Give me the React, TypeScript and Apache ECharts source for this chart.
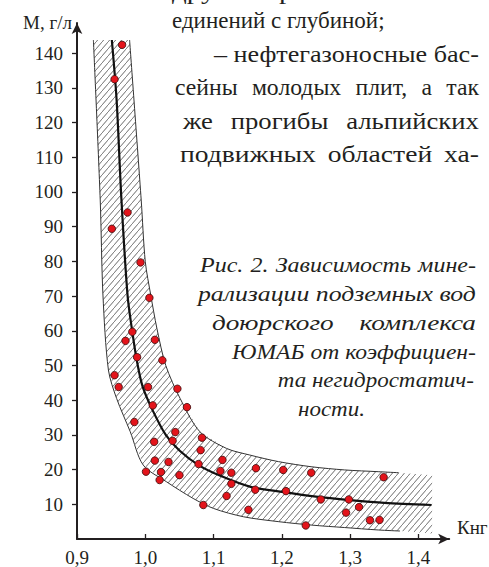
import React, { useEffect, useRef } from "react";
import * as echarts from "echarts";

// ---- data ----
const xTickValues = [0.9, 1.0, 1.1, 1.2, 1.3, 1.4];
const yTickValues = [10, 20, 30, 40, 50, 60, 70, 80, 90, 100, 110, 120, 130, 140];

const dotK = [
  0.966, 0.955, 0.974, 0.951, 0.993, 1.006, 0.981, 0.971, 1.014, 0.988,
  1.025, 0.955, 0.961, 1.004, 1.047, 1.011, 1.061, 0.984, 1.044, 1.083,
  1.013, 1.040, 1.081, 1.014, 1.034, 1.113, 1.078, 1.001, 1.023, 1.110,
  1.126, 1.021, 1.050, 1.126, 1.119, 1.085, 1.151, 1.162, 1.202, 1.243,
  1.349, 1.161, 1.206, 1.257, 1.298, 1.313, 1.294, 1.329, 1.343, 1.235,
];
const dotM = [
  142.4, 132.5, 94.1, 89.4, 79.7, 69.5, 59.7, 57.1, 57.4, 52.4,
  51.5, 47.2, 43.8, 43.8, 43.3, 38.5, 38.0, 33.7, 30.8, 29.2,
  28.0, 28.3, 25.6, 22.6, 22.2, 22.8, 21.6, 19.4, 19.3, 19.6,
  19.1, 17.0, 18.4, 15.9, 12.4, 9.8, 8.4, 20.4, 19.9, 19.1,
  17.8, 14.2, 13.8, 11.4, 11.4, 9.2, 7.6, 5.4, 5.5, 3.9,
];

const curveK = [0.951, 0.958, 0.965, 0.974, 0.981, 0.988, 0.996, 1.011, 1.030, 1.050, 1.078, 1.110, 1.153, 1.200, 1.250, 1.300, 1.350, 1.419];
const curveM = [143.8, 126.5, 98, 70.3, 59.7, 51, 44, 37, 30, 25.5, 21.3, 18.2, 15.1, 13.6, 12.2, 11.2, 10.4, 9.8];

const upperK = [0.977, 0.994, 1.000, 1.008, 1.017, 1.030, 1.051, 1.080, 1.119, 1.153, 1.195, 1.244, 1.292, 1.341, 1.371];
const upperM = [143.8, 97.7, 79.9, 70.3, 60.7, 50, 40.5, 30.9, 26.1, 24.2, 22.3, 20.8, 19.9, 19.4, 19.1];

const lowerK = [0.924, 0.934, 0.938, 0.946, 0.958, 0.978, 0.997, 1.031, 1.070, 1.100, 1.144, 1.195, 1.244, 1.292, 1.341, 1.373];
const lowerM = [143.8, 97.7, 70.3, 48.7, 40.5, 30.9, 21.3, 16.5, 11.7, 8.8, 6.4, 5.0, 4.0, 3.3, 2.6, 2.3];

const hatchEndK = 1.42;
const hatchEndUpperM = 18.4;
const hatchEndLowerM = 1.6;

const bodyLines = [
  "других органических со-",
  "единений с глубиной;",
  "– нефтегазоносные бас-",
  "сейны молодых плит, а так",
  "же прогибы альпийских",
  "подвижных областей ха-",
];
const captionLines = [
  "Рис. 2. Зависимость мине-",
  "рализации подземных вод",
  "доюрского комплекса",
  "ЮМАБ от коэффициен-",
  "та негидростатич-",
  "ности.",
];

const yName = "М, г/л";
const xName = "Кнг";

const SERIF = "Liberation Serif";
const TEXT_COLOR = "#231f20";

function makeHatch(): string {
  const c = document.createElement("canvas");
  c.width = 6;
  c.height = 7;
  const ctx = c.getContext("2d")!;
  ctx.strokeStyle = "#6a6a6a";
  ctx.lineWidth = 0.6;
  ctx.beginPath();
  ctx.moveTo(-6, 14);
  ctx.lineTo(6, 0);
  ctx.moveTo(0, 7);
  ctx.lineTo(12, -7);
  ctx.stroke();
  return c.toDataURL();
}

const measureCanvas = document.createElement("canvas");
function measure(text: string, font: string): number {
  const ctx = measureCanvas.getContext("2d")!;
  ctx.font = font;
  return ctx.measureText(text).width;
}

type LineSpec = {
  text: string;
  x0: number;
  x1: number;
  mid: number;
  size: number;
  italic: boolean;
  sx: number;
  mode: "justify" | "left" | "right" | "whole";
};

function lineGraphic(s: LineSpec): any {
  const font = `${s.italic ? "italic " : ""}${s.size}px ${SERIF}`;
  const baseStyle = {
    textAlign: "left",
    textVerticalAlign: "middle",
    fontSize: s.size,
    fontStyle: s.italic ? "italic" : "normal",
    fontFamily: SERIF,
    fill: TEXT_COLOR,
  };
  if (s.mode === "whole") {
    const w = measure(s.text, font);
    const sx = (s.x1 - s.x0) / w;
    return {
      type: "group",
      x: s.x0,
      y: s.mid,
      scaleX: sx,
      silent: true,
      children: [{ type: "text", silent: true, style: { ...baseStyle, text: s.text, x: 0, y: 0 } }],
    };
  }
  const words = s.text.split(" ");
  const widths = words.map((w) => measure(w, font));
  const space = measure(" ", font);
  const sumW = widths.reduce((a, b) => a + b, 0);
  const natural = sumW + space * (words.length - 1);
  let sx = s.sx;
  let gap = space;
  let gx = s.x0;
  if (s.mode === "justify" && words.length > 1) {
    const avail = s.x1 - s.x0;
    if (natural * sx > avail) sx = avail / natural;
    gap = (avail / sx - sumW) / (words.length - 1);
  } else if (s.mode === "right") {
    gx = s.x1 - natural * sx;
  }
  const children: any[] = [];
  let cx = 0;
  words.forEach((w, i) => {
    children.push({ type: "text", silent: true, style: { ...baseStyle, text: w, x: cx, y: 0 } });
    cx += widths[i] + gap;
  });
  return { type: "group", x: gx, y: s.mid, scaleX: sx, scaleY: 1, silent: true, children };
}

export default function App() {
  const ref = useRef<HTMLDivElement>(null);
  useEffect(() => {
    if (!ref.current) return;
    const chart = echarts.init(ref.current, null, { renderer: "svg" });
    const hatch = makeHatch();

    const bodySpecs: LineSpec[] = [
      { text: bodyLines[0], x0: 172, x1: 479, mid: -8.5, size: 23, italic: false, sx: 1, mode: "whole" },
      { text: bodyLines[1], x0: 172, x1: 479, mid: 20, size: 23, italic: false, sx: 1, mode: "left" },
      { text: bodyLines[2], x0: 214, x1: 479, mid: 54, size: 23, italic: false, sx: 1.16, mode: "justify" },
      { text: bodyLines[3], x0: 175, x1: 479, mid: 87, size: 23, italic: false, sx: 1.03, mode: "justify" },
      { text: bodyLines[4], x0: 183, x1: 479, mid: 121, size: 23, italic: false, sx: 1.16, mode: "justify" },
      { text: bodyLines[5], x0: 180, x1: 479, mid: 154, size: 23, italic: false, sx: 1.2, mode: "justify" },
    ];
    const capSpecs: LineSpec[] = [
      { text: captionLines[0], x0: 200, x1: 476, mid: 265.6, size: 20, italic: true, sx: 1.2, mode: "justify" },
      { text: captionLines[1], x0: 198, x1: 476, mid: 294.3, size: 20, italic: true, sx: 1.3, mode: "justify" },
      { text: captionLines[2], x0: 212, x1: 476, mid: 323, size: 20, italic: true, sx: 1.36, mode: "justify" },
      { text: captionLines[3], x0: 232, x1: 476, mid: 351.7, size: 20, italic: true, sx: 1.2, mode: "justify" },
      { text: captionLines[4], x0: 267, x1: 474, mid: 380.4, size: 20, italic: true, sx: 1.15, mode: "right" },
      { text: captionLines[5], x0: 298, x1: 476, mid: 409.1, size: 20, italic: true, sx: 1.15, mode: "left" },
    ];

    const graphics: any[] = [...bodySpecs.map(lineGraphic), ...capSpecs.map(lineGraphic)];
    graphics.push({
      type: "text",
      silent: true,
      style: { text: yName, x: 72, y: 22, textAlign: "right", textVerticalAlign: "middle", fontSize: 19, fontFamily: SERIF, fill: TEXT_COLOR },
    });
    graphics.push({
      type: "text",
      silent: true,
      style: { text: xName, x: 457, y: 527, textAlign: "left", textVerticalAlign: "middle", fontSize: 19, fontFamily: SERIF, fill: TEXT_COLOR },
    });

    const option: any = {
      animation: false,
      backgroundColor: "#ffffff",
      textStyle: { fontFamily: SERIF },
      grid: { left: 77, top: 23, width: 372.2, height: 516, containLabel: false },
      xAxis: {
        type: "value",
        min: 0.9,
        max: 1.445,
        interval: 0.1,
        splitLine: { show: false },
        axisLine: { show: true, lineStyle: { color: TEXT_COLOR, width: 2 }, symbol: ["none", "arrow"], symbolSize: [8, 11] },
        axisTick: { show: true, inside: true, length: 5, lineStyle: { color: TEXT_COLOR, width: 1.3 }, customValues: xTickValues },
        axisLabel: {
          customValues: xTickValues,
          margin: 9,
          color: TEXT_COLOR,
          fontFamily: SERIF,
          fontSize: 19,
          formatter: (v: number) => v.toFixed(1).replace(".", ","),
        },
      },
      yAxis: {
        type: "value",
        min: 0,
        max: 148.7,
        interval: 10,
        splitLine: { show: false },
        axisLine: { show: true, lineStyle: { color: TEXT_COLOR, width: 2 }, symbol: ["none", "arrow"], symbolSize: [8, 11] },
        axisTick: { show: true, inside: false, length: 5, lineStyle: { color: TEXT_COLOR, width: 1.3 }, customValues: yTickValues },
        axisLabel: {
          customValues: yTickValues,
          margin: 14,
          color: TEXT_COLOR,
          fontFamily: SERIF,
          fontSize: 19,
        },
      },
      graphic: graphics,
      series: [
        {
          type: "custom",
          silent: true,
          z: 1,
          data: [[1, 1]],
          renderItem: (params: any, api: any) => {
            const pts: number[][] = [];
            for (let i = 0; i < upperK.length; i++) pts.push(api.coord([upperK[i], upperM[i]]));
            pts.push(api.coord([hatchEndK, hatchEndUpperM]));
            pts.push(api.coord([hatchEndK, hatchEndLowerM]));
            for (let i = lowerK.length - 1; i >= 0; i--) pts.push(api.coord([lowerK[i], lowerM[i]]));
            return {
              type: "polygon",
              shape: { points: pts },
              style: { fill: { image: hatch, repeat: "repeat" }, stroke: null },
            };
          },
        },
        {
          type: "line",
          silent: true,
          z: 2,
          showSymbol: false,
          smooth: 0.3,
          data: upperK.map((k, i) => [k, upperM[i]]),
          lineStyle: { color: "#333", width: 1 },
        },
        {
          type: "line",
          silent: true,
          z: 2,
          showSymbol: false,
          smooth: 0.3,
          data: lowerK.map((k, i) => [k, lowerM[i]]),
          lineStyle: { color: "#333", width: 1 },
        },
        {
          type: "line",
          silent: true,
          z: 3,
          showSymbol: false,
          smooth: 0.3,
          data: curveK.map((k, i) => [k, curveM[i]]),
          lineStyle: { color: "#111", width: 2.2 },
        },
        {
          type: "scatter",
          silent: true,
          z: 4,
          symbolSize: 7.5,
          data: dotK.map((k, i) => [k, dotM[i]]),
          itemStyle: { color: "#e3141b", borderColor: "#3a0c0c", borderWidth: 0.8, opacity: 1 },
        },
      ],
    };
    chart.setOption(option);
    return () => chart.dispose();
  }, []);
  return (
    <div
      ref={ref}
      style={{ position: "fixed", left: 0, top: 0, width: 489, height: 567, background: "#fff" }}
    />
  );
}
